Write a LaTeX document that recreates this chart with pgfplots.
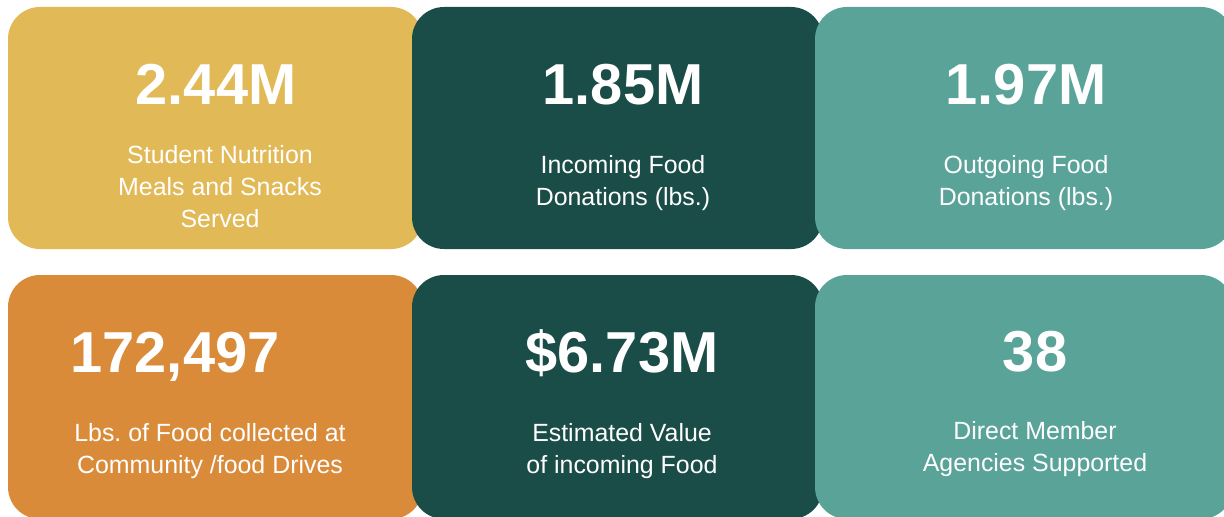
\documentclass[border=0pt]{standalone}
\usepackage{fontspec}
\setmainfont{Liberation Sans}
\usepackage{pgfplots}
\pgfplotsset{compat=1.18}
\definecolor{CardYellow}{RGB}{225,185,86}
\definecolor{CardDark}{RGB}{26,77,72}
\definecolor{CardTeal}{RGB}{90,163,153}
\definecolor{CardOrange}{RGB}{217,139,58}

\newcommand{\valfont}{\fontsize{58}{58}\selectfont\bfseries}
\newcommand{\labfont}{\fontsize{25}{32}\selectfont}
\frenchspacing

\begin{document}
\begin{tikzpicture}
\useasboundingbox (0,0) rectangle (1224bp,517bp);
\begin{axis}[
  at={(0,0)}, anchor=south west,
  width=1224bp, height=517bp, scale only axis,
  xmin=0, xmax=1224, ymin=0, ymax=517, y dir=reverse,
  hide axis, clip=true,
]
% cards, left to right so each overlaps the one before it
\fill[CardYellow, rounded corners=32bp] (axis cs:8,7) rectangle (axis cs:423,249);
\fill[CardOrange, rounded corners=32bp] (axis cs:8,275) rectangle (axis cs:423,519);
\fill[CardDark, rounded corners=32bp] (axis cs:412,7) rectangle (axis cs:823,249);
\fill[CardDark, rounded corners=32bp] (axis cs:412,275) rectangle (axis cs:823,519);
\fill[CardTeal, rounded corners=32bp] (axis cs:815,7) rectangle (axis cs:1233,249);
\fill[CardTeal, rounded corners=32bp] (axis cs:815,275) rectangle (axis cs:1233,519);

\begin{scope}[every node/.style={text=white, inner sep=0pt, anchor=base}]
% top row
\node[font=\valfont] at (axis cs:216,104) {2.44M};
\node[font=\labfont] at (axis cs:220,163) {Student Nutrition};
\node[font=\labfont] at (axis cs:220,195) {Meals and Snacks};
\node[font=\labfont] at (axis cs:220,227) {Served};

\node[font=\valfont] at (axis cs:623,104) {1.85M};
\node[font=\labfont] at (axis cs:623,173) {Incoming Food};
\node[font=\labfont] at (axis cs:623,205) {Donations (lbs.)};

\node[font=\valfont] at (axis cs:1026,104) {1.97M};
\node[font=\labfont] at (axis cs:1026,173) {Outgoing Food};
\node[font=\labfont] at (axis cs:1026,205) {Donations (lbs.)};

% bottom row
\node[font=\valfont] at (axis cs:175,372) {172,497};
\node[font=\labfont] at (axis cs:210,441) {Lbs. of Food collected at};
\node[font=\labfont] at (axis cs:210,473) {Community /food Drives};

\node[font=\valfont] at (axis cs:622,372) {\$6.73M};
\node[font=\labfont] at (axis cs:622,441) {Estimated Value};
\node[font=\labfont] at (axis cs:622,473) {of incoming Food};

\node[font=\valfont] at (axis cs:1035,371) {38};
\node[font=\labfont] at (axis cs:1035,439) {Direct Member};
\node[font=\labfont] at (axis cs:1035,471) {Agencies Supported};
\end{scope}
\end{axis}
\end{tikzpicture}
\end{document}
